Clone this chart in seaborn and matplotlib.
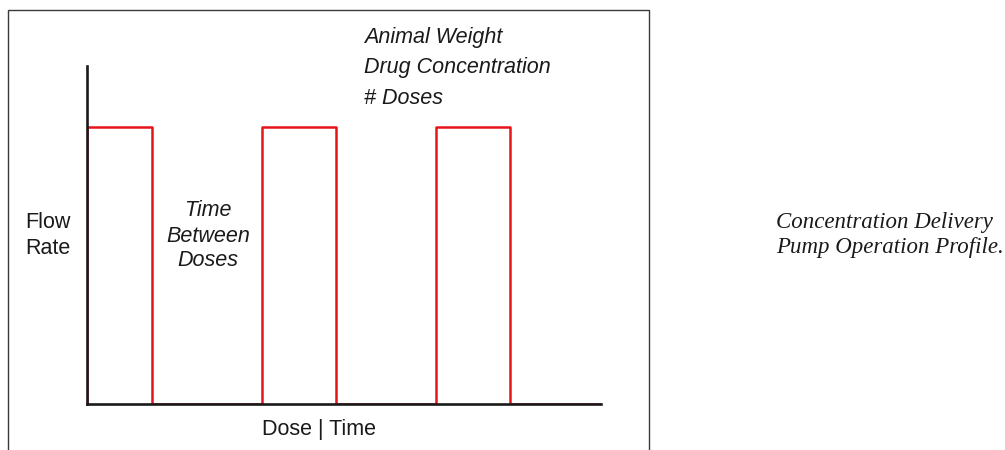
import pandas as pd
import matplotlib.pyplot as plt
import seaborn as sns
from matplotlib.patches import Rectangle

# =========================
# DATA (arbitrary time units 0-10)
# =========================
dose_start = [0.0, 3.40, 6.79]
dose_end = [1.26, 4.84, 8.23]
dose_rate = [1.0, 1.0, 1.0]
time_max = 10.0
rate_max = 1.22

notes = ["Animal Weight", "Drug Concentration", "# Doses"]
gap_label = ["Time", "Between", "Doses"]
ylabel_lines = ["Flow", "Rate"]
xlabel = "Dose | Time"
caption = ["Concentration Delivery", "Pump Operation Profile."]

# build the square-wave profile from the dose lists
t, q = [], []
for s, e, r in zip(dose_start, dose_end, dose_rate):
    t += [s, s, e, e]
    q += [0, r, r, 0]
t.append(time_max)
q.append(0)
df = pd.DataFrame({"time": t, "rate": q})

# =========================
# STYLE
# =========================
sns.set_theme(style="white")
plt.rcParams["font.family"] = ["Liberation Sans", "DejaVu Sans"]

W, H = 1005, 450
fig = plt.figure(figsize=(W / 100, H / 100), dpi=100)
ax = fig.add_axes([87 / W, 1 - 404 / H, 514 / W, 338 / H])

sns.lineplot(data=df, x="time", y="rate", sort=False, estimator=None,
             color="#e8141c", linewidth=1.8, ax=ax, zorder=2)

ax.set_xlim(0, time_max)
ax.set_ylim(0, rate_max)
ax.set_xticks([])
ax.set_yticks([])
ax.set_xlabel("")
ax.set_ylabel("")
for side in ["top", "right"]:
    ax.spines[side].set_visible(False)
for side in ["left", "bottom"]:
    ax.spines[side].set_color("#1a1a1a")
    ax.spines[side].set_linewidth(1.9)
    ax.spines[side].set_zorder(3)

# outer frame
fig.patches.append(Rectangle((8 / W, -0.05), 641 / W, 1.05 - 10 / H,
                             transform=fig.transFigure, fill=False,
                             edgecolor="#3a3a3a", linewidth=1.0))

def px(x, y):
    return x / W, 1 - y / H

fs = 15.5
for txt, y in zip(notes, [37, 68, 99]):
    fig.text(*px(364, y), txt, fontsize=fs, style="italic", va="center",
             ha="left", color="#1a1a1a")
for txt, y in zip(gap_label, [210, 236, 261]):
    fig.text(*px(208, y), txt, fontsize=fs, style="italic", va="center",
             ha="center", color="#1a1a1a")
for txt, y in zip(ylabel_lines, [222, 248]):
    fig.text(*px(25, y), txt, fontsize=fs, va="center", ha="left",
             color="#1a1a1a")
fig.text(*px(319, 429), xlabel, fontsize=fs, va="center", ha="center",
         color="#1a1a1a")
for txt, y in zip(caption, [222, 247]):
    fig.text(*px(776, y), txt, fontsize=16.5, style="italic", va="center",
             ha="left", family=["Liberation Serif", "DejaVu Serif"],
             color="#1a1a1a")

plt.savefig("out.png", dpi=100)
